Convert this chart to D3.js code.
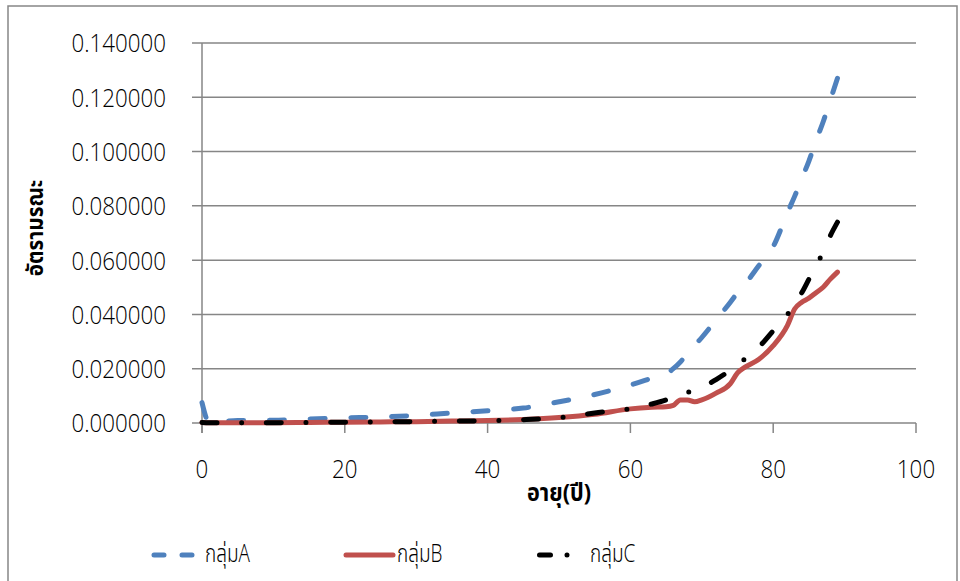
<!DOCTYPE html>
<html><head><meta charset="utf-8">
<script src="https://cdn.jsdelivr.net/npm/d3@7"></script>
<style>
body{margin:0;background:#fff;}
text{font-family:"Open Sans","Noto Sans Thai","Noto Sans",sans-serif;fill:#000;}
.lt{font-weight:300;}
</style></head>
<body><svg id="c" width="960" height="581"></svg>
<script>
const ages = [0,1,5,10,15,20,25,30,35,40,45,50,55,60,63,65,66,67,68,69,70,72,74,75,76,78,80,82,83,84,85,86,87,88,89];
const groupA = [0.0075,0.0003,0.0009,0.0010,0.0015,0.0019,0.0022,0.0028,0.0037,0.0045,0.0055,0.0078,0.0105,0.0140,0.0165,0.0180,0.0200,0.0225,0.0255,0.0285,0.0315,0.0380,0.0445,0.0480,0.0510,0.0580,0.0650,0.0775,0.0835,0.0900,0.0965,0.1040,0.1110,0.1190,0.1270];
const groupB = [0.0002,0.0001,0.0001,0.0001,0.0002,0.0003,0.0004,0.0005,0.0007,0.0009,0.0013,0.0020,0.0032,0.0052,0.0058,0.0060,0.0065,0.0085,0.0085,0.0078,0.0085,0.0110,0.0145,0.0185,0.0205,0.0235,0.0285,0.0360,0.0420,0.0445,0.0460,0.0480,0.0500,0.0530,0.0556];
const groupC = [0.0002,0.0001,0.0001,0.0001,0.0002,0.0003,0.0004,0.0005,0.0007,0.0008,0.0012,0.0020,0.0037,0.0053,0.0070,0.0085,0.0095,0.0105,0.0113,0.0120,0.0130,0.0160,0.0195,0.0215,0.0235,0.0280,0.0340,0.0400,0.0440,0.0480,0.0530,0.0580,0.0630,0.0690,0.0740];
const seriesNames = ["กลุ่มA","กลุ่มB","กลุ่มC"];
const yTicks = [0,0.02,0.04,0.06,0.08,0.10,0.12,0.14];
const xTicks = [0,20,40,60,80,100];
const xTitle = "อายุ(ปี)";
const yTitle = "อัตรามรณะ";

const svg = d3.select("#c");
svg.append("rect").attr("x",8).attr("y",6).attr("width",949).attr("height",590)
  .attr("fill","#fff").attr("stroke","#868686").attr("stroke-width",1.5);

const x = d3.scaleLinear().domain([0,100]).range([202,916]);
const y = d3.scaleLinear().domain([0,0.14]).range([423,43]);
const grid = "#868686";

svg.append("g").selectAll("line").data(yTicks).join("line")
  .attr("x1",192).attr("x2",916).attr("y1",d=>y(d)).attr("y2",d=>y(d))
  .attr("stroke",grid).attr("stroke-width",1.5);
svg.append("line").attr("x1",202).attr("x2",202).attr("y1",43).attr("y2",433)
  .attr("stroke",grid).attr("stroke-width",1.5);
svg.append("g").selectAll("line").data(xTicks).join("line")
  .attr("x1",d=>x(d)).attr("x2",d=>x(d)).attr("y1",423).attr("y2",433)
  .attr("stroke",grid).attr("stroke-width",1.5);

const sx = 0.86;
svg.append("g").selectAll("text").data(yTicks).join("text").attr("class","lt")
  .attr("transform",d=>`translate(166,${y(d)}) scale(${sx},1)`).attr("dy","0.36em").attr("text-anchor","end")
  .attr("font-size",26).text(d=>d.toFixed(6));
svg.append("g").selectAll("text").data(xTicks).join("text").attr("class","lt")
  .attr("transform",d=>`translate(${x(d)},469) scale(${sx},1)`).attr("dy","0.36em").attr("text-anchor","middle")
  .attr("font-size",26).text(d=>d);

svg.append("text").attr("transform","translate(559,493) scale(0.9,1)").attr("dy","0.35em").attr("text-anchor","middle")
  .attr("font-size",24).attr("font-weight","bold").text(xTitle);
svg.append("text").attr("transform","translate(35,228) rotate(-90) scale(0.9,1)").attr("dy","0.35em")
  .attr("text-anchor","middle").attr("font-size",23).attr("font-weight","bold").text(yTitle);

const styles = [
  {color:"#4F81BD", dash:[15,25], lDash:"10,18"},
  {color:"#C0504D", dash:null, lDash:null},
  {color:"#000000", dash:[15,24,0,24], lDash:"11,16.5,0,16"}
];
const data = [groupA, groupB, groupC];
const line = d3.line().x(d=>x(d[0])).y(d=>y(d[1])).curve(d3.curveMonotoneX);
data.forEach((vals,i)=>{
  const pts = ages.map((a,j)=>[a,vals[j]]);
  const p = svg.append("path").attr("d",line(pts)).attr("fill","none")
    .attr("stroke",styles[i].color).attr("stroke-width",5)
    .attr("stroke-linecap","round").attr("stroke-linejoin","round");
  const ds = styles[i].dash;
  if (ds) {
    // stretch gaps slightly so the line starts and ends on a dash
    const L = p.node().getTotalLength();
    const per = d3.sum(ds);
    const n = Math.round((L - ds[0]) / per);
    const newPer = (L - ds[0]) / n;
    const gapScale = (newPer - ds[0]) / (per - ds[0]);
    const arr = ds.map((v,k)=> (k===0 || v===0) ? v : v*gapScale);
    p.attr("stroke-dasharray", arr.join(","));
  }
});
const legX = [[154,195,205],[346,393,397],[539.5,583,590]];
seriesNames.forEach((n,i)=>{
  const g = svg.append("g");
  g.append("line").attr("x1",legX[i][0]).attr("x2",legX[i][1]).attr("y1",555).attr("y2",555)
    .attr("stroke",styles[i].color).attr("stroke-width",5).attr("stroke-linecap","round")
    .attr("stroke-dasharray",styles[i].lDash);
  g.append("text").attr("class","lt").attr("transform",`translate(${legX[i][2]},553) scale(0.76,1)`)
    .attr("dy","0.35em").attr("font-size",25).text(n);
});
</script></body></html>
